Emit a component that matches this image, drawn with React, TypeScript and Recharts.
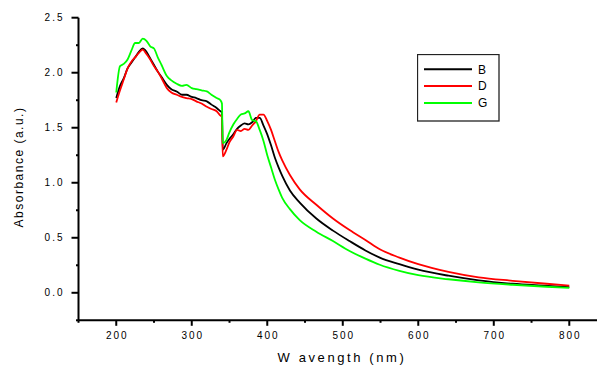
import React from 'react';
import { LineChart, Line, XAxis, YAxis, Legend } from 'recharts';

const wavelengths = [200, 205, 210, 215, 220, 225, 230, 235, 240, 245, 250, 255, 260, 267, 273, 280, 287, 293, 300, 306, 313, 320, 326, 333, 338, 340, 341, 346, 350, 355, 360, 365, 370, 375, 380, 385, 390, 395, 400, 405, 410, 415, 420, 430, 443, 465, 487, 509, 530, 549, 575, 600, 640, 680, 725, 770, 800];

const absB = [1.77, 1.88, 1.95, 2.04, 2.09, 2.14, 2.19, 2.22, 2.19, 2.13, 2.07, 2.01, 1.96, 1.89, 1.85, 1.83, 1.80, 1.80, 1.78, 1.77, 1.75, 1.74, 1.71, 1.68, 1.65, 1.64, 1.30, 1.36, 1.40, 1.44, 1.49, 1.52, 1.54, 1.53, 1.55, 1.59, 1.59, 1.52, 1.44, 1.34, 1.23, 1.14, 1.06, 0.93, 0.82, 0.675, 0.565, 0.47, 0.385, 0.32, 0.26, 0.21, 0.155, 0.113, 0.082, 0.064, 0.052];

const absD = [1.73, 1.84, 1.94, 2.04, 2.10, 2.14, 2.18, 2.21, 2.17, 2.12, 2.06, 2.01, 1.95, 1.86, 1.82, 1.80, 1.78, 1.77, 1.76, 1.74, 1.72, 1.69, 1.67, 1.65, 1.61, 1.60, 1.24, 1.30, 1.37, 1.42, 1.48, 1.47, 1.49, 1.48, 1.52, 1.56, 1.62, 1.62, 1.56, 1.48, 1.38, 1.28, 1.20, 1.07, 0.94, 0.80, 0.675, 0.57, 0.48, 0.395, 0.32, 0.26, 0.19, 0.14, 0.109, 0.082, 0.066];

const absG = [1.82, 2.06, 2.08, 2.12, 2.20, 2.27, 2.27, 2.31, 2.29, 2.24, 2.22, 2.14, 2.07, 1.97, 1.93, 1.90, 1.88, 1.89, 1.86, 1.85, 1.84, 1.83, 1.80, 1.77, 1.75, 1.72, 1.36, 1.39, 1.46, 1.53, 1.58, 1.62, 1.63, 1.65, 1.57, 1.56, 1.48, 1.38, 1.25, 1.14, 1.03, 0.94, 0.86, 0.76, 0.66, 0.555, 0.47, 0.38, 0.31, 0.255, 0.20, 0.16, 0.123, 0.095, 0.073, 0.055, 0.045];

const xTicks = [150, 200, 250, 300, 350, 400, 450, 500, 550, 600, 650, 700, 750, 800];
const yTicks = [-0.25, 0, 0.25, 0.5, 0.75, 1.0, 1.25, 1.5, 1.75, 2.0, 2.25, 2.5];

const seriesNames = ['B', 'D', 'G'];
const seriesColors = ['#000000', '#ff0000', '#00ff00'];

const data = wavelengths.map((w, i) => ({ w, B: absB[i], D: absD[i], G: absG[i] }));

const FONT = '"Liberation Sans", Arial, sans-serif';

const XTick = (props: any) => {
  const { x, y, payload } = props;
  const major = payload.value % 100 === 0;
  return (
    <g>
      <line x1={x} x2={x} y1={y} y2={y + (major ? 5.5 : 2.5)} stroke="#000" strokeWidth={2} />
      {major && (
        <text x={x + 1} y={y + 18.6} textAnchor="middle" fontSize={10} fontFamily={FONT} letterSpacing={2} fill="#000">
          {payload.value}
        </text>
      )}
    </g>
  );
};

const YTick = (props: any) => {
  const { x, y, payload } = props;
  const v = payload.value;
  const major = Math.abs(Math.round(v * 2) - v * 2) < 1e-6;
  return (
    <g>
      <line x1={x} x2={x - (major ? 7 : 2.5)} y1={y} y2={y} stroke="#000" strokeWidth={2} />
      {major && (
        <text x={x - 14} y={y} dy="0.35em" textAnchor="end" fontSize={10} fontFamily={FONT} letterSpacing={2} fill="#000">
          {v.toFixed(1)}
        </text>
      )}
    </g>
  );
};

const LegendBox = (props: any) => {
  const payload = props.payload || [];
  return (
    <svg width={83} height={68} style={{ display: 'block' }}>
      <rect x={0.5} y={0.5} width={81.5} height={66.5} fill="#fff" stroke="#222" strokeWidth={1.3} />
      {payload.map((p: any, i: number) => (
        <g key={p.value}>
          <line x1={7} x2={55} y1={15.3 + i * 16.8} y2={15.3 + i * 16.8} stroke={p.color} strokeWidth={2} />
          <text x={61} y={19.5 + i * 16.8} fontSize={12} fontFamily={FONT} fill="#000">
            {p.value}
          </text>
        </g>
      ))}
    </svg>
  );
};

export default function App() {
  return (
    <div style={{ position: 'absolute', left: 0, top: 0, width: 597, height: 365, background: '#fff' }}>
      <LineChart width={597} height={365} data={data} margin={{ top: 17.7, right: 0, bottom: 0, left: 18.5 }}>
        <XAxis
          dataKey="w"
          type="number"
          domain={[150, 836.7]}
          ticks={xTicks}
          interval={0}
          height={44.7}
          tickSize={0}
          tickMargin={0}
          tickLine={false}
          axisLine={{ stroke: '#000', strokeWidth: 2 }}
          tick={<XTick />}
          label={() => (
            <text x={342} y={361.5} textAnchor="middle" fontSize={13} fontFamily={FONT} letterSpacing={2.6} fill="#000">
              W avength (nm)
            </text>
          )}
        />
        <YAxis
          type="number"
          domain={[-0.25, 2.5]}
          ticks={yTicks}
          interval={0}
          width={60}
          tickSize={0}
          tickMargin={0}
          tickLine={false}
          axisLine={{ stroke: '#000', strokeWidth: 2 }}
          tick={<YTick />}
          label={() => (
            <text transform="translate(22.5,167) rotate(-90)" x={0} y={0} textAnchor="middle" fontSize={12} fontFamily={FONT} letterSpacing={1.5} fill="#000">
              Absorbance (a.u.)
            </text>
          )}
        />
        <Legend
          layout="horizontal"
          verticalAlign="middle"
          align="center"
          content={<LegendBox />}
          wrapperStyle={{ position: 'absolute', left: 417, top: 54, width: 83, height: 68 }}
        />
        {seriesNames.map((n, i) => (
          <Line
            key={n}
            type="monotone"
            dataKey={n}
            name={n}
            stroke={seriesColors[i]}
            strokeWidth={1.8}
            dot={false}
            isAnimationActive={false}
          />
        ))}
      </LineChart>
    </div>
  );
}
